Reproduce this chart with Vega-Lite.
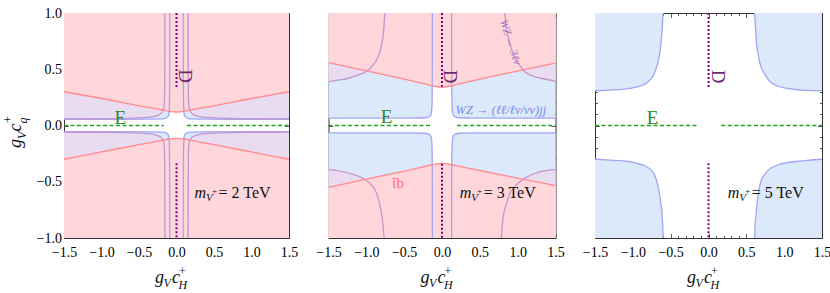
{
"$schema":"https://vega.github.io/schema/vega-lite/v6.json",
"background":"white",
"padding":{"left":1,"top":6,"right":2,"bottom":0},
"spacing":39.5,
"bounds":"flush",
"config":{"view":{"stroke":null},"axis":{"grid":false,"zindex":1,"domainColor":"#333","tickColor":"#333","tickWidth":0.8,"domainWidth":1,"labelFont":"Liberation Serif","labelFontSize":14,"labelColor":"#000","labelFlush":false,"labelOverlap":false},"text":{"font":"Liberation Serif","color":"#111"}},
"datasets":{
"f":[
{"p":1,"c":"b","r":"tr","x":0.09,"y":1,"y2":1},{"p":1,"c":"b","r":"tr","x":0.091,"y":0.5,"y2":1},{"p":1,"c":"b","r":"tr","x":0.093,"y":0.25,"y2":1},{"p":1,"c":"b","r":"tr","x":0.097,"y":0.15,"y2":1},{"p":1,"c":"b","r":"tr","x":0.104,"y":0.093,"y2":1},{"p":1,"c":"b","r":"tr","x":0.12,"y":0.075,"y2":1},{"p":1,"c":"b","r":"tr","x":0.15,"y":0.064,"y2":1},{"p":1,"c":"b","r":"tr","x":0.2,"y":0.059,"y2":1},{"p":1,"c":"b","r":"tr","x":0.4,"y":0.056,"y2":1},{"p":1,"c":"b","r":"tr","x":0.8,"y":0.055,"y2":1},{"p":1,"c":"b","r":"tr","x":1.5,"y":0.055,"y2":1},
{"p":1,"c":"b","r":"tl","x":-1.5,"y":0.055,"y2":1},{"p":1,"c":"b","r":"tl","x":-0.8,"y":0.055,"y2":1},{"p":1,"c":"b","r":"tl","x":-0.4,"y":0.056,"y2":1},{"p":1,"c":"b","r":"tl","x":-0.2,"y":0.059,"y2":1},{"p":1,"c":"b","r":"tl","x":-0.15,"y":0.064,"y2":1},{"p":1,"c":"b","r":"tl","x":-0.12,"y":0.075,"y2":1},{"p":1,"c":"b","r":"tl","x":-0.104,"y":0.093,"y2":1},{"p":1,"c":"b","r":"tl","x":-0.097,"y":0.15,"y2":1},{"p":1,"c":"b","r":"tl","x":-0.093,"y":0.25,"y2":1},{"p":1,"c":"b","r":"tl","x":-0.091,"y":0.5,"y2":1},{"p":1,"c":"b","r":"tl","x":-0.09,"y":1,"y2":1},
{"p":1,"c":"b","r":"br","x":0.09,"y":-1,"y2":-1},{"p":1,"c":"b","r":"br","x":0.091,"y":-0.5,"y2":-1},{"p":1,"c":"b","r":"br","x":0.093,"y":-0.25,"y2":-1},{"p":1,"c":"b","r":"br","x":0.097,"y":-0.15,"y2":-1},{"p":1,"c":"b","r":"br","x":0.104,"y":-0.093,"y2":-1},{"p":1,"c":"b","r":"br","x":0.12,"y":-0.075,"y2":-1},{"p":1,"c":"b","r":"br","x":0.15,"y":-0.064,"y2":-1},{"p":1,"c":"b","r":"br","x":0.2,"y":-0.059,"y2":-1},{"p":1,"c":"b","r":"br","x":0.4,"y":-0.056,"y2":-1},{"p":1,"c":"b","r":"br","x":0.8,"y":-0.055,"y2":-1},{"p":1,"c":"b","r":"br","x":1.5,"y":-0.055,"y2":-1},
{"p":1,"c":"b","r":"bl","x":-1.5,"y":-0.055,"y2":-1},{"p":1,"c":"b","r":"bl","x":-0.8,"y":-0.055,"y2":-1},{"p":1,"c":"b","r":"bl","x":-0.4,"y":-0.056,"y2":-1},{"p":1,"c":"b","r":"bl","x":-0.2,"y":-0.059,"y2":-1},{"p":1,"c":"b","r":"bl","x":-0.15,"y":-0.064,"y2":-1},{"p":1,"c":"b","r":"bl","x":-0.12,"y":-0.075,"y2":-1},{"p":1,"c":"b","r":"bl","x":-0.104,"y":-0.093,"y2":-1},{"p":1,"c":"b","r":"bl","x":-0.097,"y":-0.15,"y2":-1},{"p":1,"c":"b","r":"bl","x":-0.093,"y":-0.25,"y2":-1},{"p":1,"c":"b","r":"bl","x":-0.091,"y":-0.5,"y2":-1},{"p":1,"c":"b","r":"bl","x":-0.09,"y":-1,"y2":-1},

{"p":1,"c":"u","r":"tr","x":0.155,"y":1,"y2":1},{"p":1,"c":"u","r":"tr","x":0.156,"y":0.5,"y2":1},{"p":1,"c":"u","r":"tr","x":0.158,"y":0.3,"y2":1},{"p":1,"c":"u","r":"tr","x":0.162,"y":0.2,"y2":1},{"p":1,"c":"u","r":"tr","x":0.17,"y":0.145,"y2":1},{"p":1,"c":"u","r":"tr","x":0.2,"y":0.11,"y2":1},{"p":1,"c":"u","r":"tr","x":0.25,"y":0.09,"y2":1},{"p":1,"c":"u","r":"tr","x":0.35,"y":0.075,"y2":1},{"p":1,"c":"u","r":"tr","x":0.6,"y":0.065,"y2":1},{"p":1,"c":"u","r":"tr","x":1.0,"y":0.06,"y2":1},{"p":1,"c":"u","r":"tr","x":1.5,"y":0.058,"y2":1},
{"p":1,"c":"u","r":"tl","x":-1.5,"y":0.058,"y2":1},{"p":1,"c":"u","r":"tl","x":-1.0,"y":0.06,"y2":1},{"p":1,"c":"u","r":"tl","x":-0.6,"y":0.065,"y2":1},{"p":1,"c":"u","r":"tl","x":-0.35,"y":0.075,"y2":1},{"p":1,"c":"u","r":"tl","x":-0.25,"y":0.09,"y2":1},{"p":1,"c":"u","r":"tl","x":-0.2,"y":0.11,"y2":1},{"p":1,"c":"u","r":"tl","x":-0.17,"y":0.145,"y2":1},{"p":1,"c":"u","r":"tl","x":-0.162,"y":0.2,"y2":1},{"p":1,"c":"u","r":"tl","x":-0.158,"y":0.3,"y2":1},{"p":1,"c":"u","r":"tl","x":-0.156,"y":0.5,"y2":1},{"p":1,"c":"u","r":"tl","x":-0.155,"y":1,"y2":1},
{"p":1,"c":"u","r":"br","x":0.155,"y":-1,"y2":-1},{"p":1,"c":"u","r":"br","x":0.156,"y":-0.5,"y2":-1},{"p":1,"c":"u","r":"br","x":0.158,"y":-0.3,"y2":-1},{"p":1,"c":"u","r":"br","x":0.162,"y":-0.2,"y2":-1},{"p":1,"c":"u","r":"br","x":0.17,"y":-0.145,"y2":-1},{"p":1,"c":"u","r":"br","x":0.2,"y":-0.11,"y2":-1},{"p":1,"c":"u","r":"br","x":0.25,"y":-0.09,"y2":-1},{"p":1,"c":"u","r":"br","x":0.35,"y":-0.075,"y2":-1},{"p":1,"c":"u","r":"br","x":0.6,"y":-0.065,"y2":-1},{"p":1,"c":"u","r":"br","x":1.0,"y":-0.06,"y2":-1},{"p":1,"c":"u","r":"br","x":1.5,"y":-0.058,"y2":-1},
{"p":1,"c":"u","r":"bl","x":-1.5,"y":-0.058,"y2":-1},{"p":1,"c":"u","r":"bl","x":-1.0,"y":-0.06,"y2":-1},{"p":1,"c":"u","r":"bl","x":-0.6,"y":-0.065,"y2":-1},{"p":1,"c":"u","r":"bl","x":-0.35,"y":-0.075,"y2":-1},{"p":1,"c":"u","r":"bl","x":-0.25,"y":-0.09,"y2":-1},{"p":1,"c":"u","r":"bl","x":-0.2,"y":-0.11,"y2":-1},{"p":1,"c":"u","r":"bl","x":-0.17,"y":-0.145,"y2":-1},{"p":1,"c":"u","r":"bl","x":-0.162,"y":-0.2,"y2":-1},{"p":1,"c":"u","r":"bl","x":-0.158,"y":-0.3,"y2":-1},{"p":1,"c":"u","r":"bl","x":-0.156,"y":-0.5,"y2":-1},{"p":1,"c":"u","r":"bl","x":-0.155,"y":-1,"y2":-1},

{"p":1,"c":"k","r":"t","x":-1.5,"y":0.30,"y2":1},{"p":1,"c":"k","r":"t","x":-1.0,"y":0.24,"y2":1},{"p":1,"c":"k","r":"t","x":-0.5,"y":0.175,"y2":1},{"p":1,"c":"k","r":"t","x":-0.2,"y":0.14,"y2":1},{"p":1,"c":"k","r":"t","x":-0.1,"y":0.126,"y2":1},{"p":1,"c":"k","r":"t","x":0,"y":0.12,"y2":1},{"p":1,"c":"k","r":"t","x":0.1,"y":0.126,"y2":1},{"p":1,"c":"k","r":"t","x":0.2,"y":0.14,"y2":1},{"p":1,"c":"k","r":"t","x":0.5,"y":0.175,"y2":1},{"p":1,"c":"k","r":"t","x":1.0,"y":0.24,"y2":1},{"p":1,"c":"k","r":"t","x":1.5,"y":0.30,"y2":1},
{"p":1,"c":"k","r":"b","x":-1.5,"y":-0.30,"y2":-1},{"p":1,"c":"k","r":"b","x":-1.0,"y":-0.235,"y2":-1},{"p":1,"c":"k","r":"b","x":-0.5,"y":-0.17,"y2":-1},{"p":1,"c":"k","r":"b","x":-0.2,"y":-0.133,"y2":-1},{"p":1,"c":"k","r":"b","x":-0.1,"y":-0.12,"y2":-1},{"p":1,"c":"k","r":"b","x":0,"y":-0.115,"y2":-1},{"p":1,"c":"k","r":"b","x":0.1,"y":-0.12,"y2":-1},{"p":1,"c":"k","r":"b","x":0.2,"y":-0.133,"y2":-1},{"p":1,"c":"k","r":"b","x":0.5,"y":-0.17,"y2":-1},{"p":1,"c":"k","r":"b","x":1.0,"y":-0.235,"y2":-1},{"p":1,"c":"k","r":"b","x":1.5,"y":-0.30,"y2":-1},

{"p":2,"c":"b","r":"tr","x":0.127,"y":1,"y2":1},{"p":2,"c":"b","r":"tr","x":0.128,"y":0.5,"y2":1},{"p":2,"c":"b","r":"tr","x":0.13,"y":0.25,"y2":1},{"p":2,"c":"b","r":"tr","x":0.134,"y":0.16,"y2":1},{"p":2,"c":"b","r":"tr","x":0.142,"y":0.11,"y2":1},{"p":2,"c":"b","r":"tr","x":0.157,"y":0.085,"y2":1},{"p":2,"c":"b","r":"tr","x":0.182,"y":0.075,"y2":1},{"p":2,"c":"b","r":"tr","x":0.23,"y":0.069,"y2":1},{"p":2,"c":"b","r":"tr","x":0.4,"y":0.066,"y2":1},{"p":2,"c":"b","r":"tr","x":1.5,"y":0.065,"y2":1},
{"p":2,"c":"b","r":"tl","x":-1.5,"y":0.065,"y2":1},{"p":2,"c":"b","r":"tl","x":-0.4,"y":0.066,"y2":1},{"p":2,"c":"b","r":"tl","x":-0.23,"y":0.069,"y2":1},{"p":2,"c":"b","r":"tl","x":-0.182,"y":0.075,"y2":1},{"p":2,"c":"b","r":"tl","x":-0.157,"y":0.085,"y2":1},{"p":2,"c":"b","r":"tl","x":-0.142,"y":0.11,"y2":1},{"p":2,"c":"b","r":"tl","x":-0.134,"y":0.16,"y2":1},{"p":2,"c":"b","r":"tl","x":-0.13,"y":0.25,"y2":1},{"p":2,"c":"b","r":"tl","x":-0.128,"y":0.5,"y2":1},{"p":2,"c":"b","r":"tl","x":-0.127,"y":1,"y2":1},
{"p":2,"c":"b","r":"br","x":0.127,"y":-1,"y2":-1},{"p":2,"c":"b","r":"br","x":0.128,"y":-0.5,"y2":-1},{"p":2,"c":"b","r":"br","x":0.13,"y":-0.25,"y2":-1},{"p":2,"c":"b","r":"br","x":0.134,"y":-0.16,"y2":-1},{"p":2,"c":"b","r":"br","x":0.142,"y":-0.11,"y2":-1},{"p":2,"c":"b","r":"br","x":0.157,"y":-0.085,"y2":-1},{"p":2,"c":"b","r":"br","x":0.182,"y":-0.075,"y2":-1},{"p":2,"c":"b","r":"br","x":0.23,"y":-0.069,"y2":-1},{"p":2,"c":"b","r":"br","x":0.4,"y":-0.066,"y2":-1},{"p":2,"c":"b","r":"br","x":1.5,"y":-0.065,"y2":-1},
{"p":2,"c":"b","r":"bl","x":-1.5,"y":-0.065,"y2":-1},{"p":2,"c":"b","r":"bl","x":-0.4,"y":-0.066,"y2":-1},{"p":2,"c":"b","r":"bl","x":-0.23,"y":-0.069,"y2":-1},{"p":2,"c":"b","r":"bl","x":-0.182,"y":-0.075,"y2":-1},{"p":2,"c":"b","r":"bl","x":-0.157,"y":-0.085,"y2":-1},{"p":2,"c":"b","r":"bl","x":-0.142,"y":-0.11,"y2":-1},{"p":2,"c":"b","r":"bl","x":-0.134,"y":-0.16,"y2":-1},{"p":2,"c":"b","r":"bl","x":-0.13,"y":-0.25,"y2":-1},{"p":2,"c":"b","r":"bl","x":-0.128,"y":-0.5,"y2":-1},{"p":2,"c":"b","r":"bl","x":-0.127,"y":-1,"y2":-1},

{"p":2,"c":"u","r":"tl","x":-1.5,"y":0.39,"y2":1},{"p":2,"c":"u","r":"tl","x":-1.35,"y":0.405,"y2":1},{"p":2,"c":"u","r":"tl","x":-1.24,"y":0.42,"y2":1},{"p":2,"c":"u","r":"tl","x":-1.1,"y":0.45,"y2":1},{"p":2,"c":"u","r":"tl","x":-1.0,"y":0.48,"y2":1},{"p":2,"c":"u","r":"tl","x":-0.92,"y":0.53,"y2":1},{"p":2,"c":"u","r":"tl","x":-0.86,"y":0.59,"y2":1},{"p":2,"c":"u","r":"tl","x":-0.82,"y":0.66,"y2":1},{"p":2,"c":"u","r":"tl","x":-0.79,"y":0.75,"y2":1},{"p":2,"c":"u","r":"tl","x":-0.77,"y":0.85,"y2":1},{"p":2,"c":"u","r":"tl","x":-0.756,"y":1,"y2":1},
{"p":2,"c":"u","r":"tr","x":0.83,"y":1,"y2":1},{"p":2,"c":"u","r":"tr","x":0.845,"y":0.9,"y2":1},{"p":2,"c":"u","r":"tr","x":0.87,"y":0.8,"y2":1},{"p":2,"c":"u","r":"tr","x":0.91,"y":0.7,"y2":1},{"p":2,"c":"u","r":"tr","x":0.96,"y":0.61,"y2":1},{"p":2,"c":"u","r":"tr","x":1.02,"y":0.54,"y2":1},{"p":2,"c":"u","r":"tr","x":1.09,"y":0.48,"y2":1},{"p":2,"c":"u","r":"tr","x":1.2,"y":0.44,"y2":1},{"p":2,"c":"u","r":"tr","x":1.31,"y":0.42,"y2":1},{"p":2,"c":"u","r":"tr","x":1.5,"y":0.395,"y2":1},
{"p":2,"c":"u","r":"bl","x":-1.5,"y":-0.39,"y2":-1},{"p":2,"c":"u","r":"bl","x":-1.25,"y":-0.42,"y2":-1},{"p":2,"c":"u","r":"bl","x":-1.02,"y":-0.48,"y2":-1},{"p":2,"c":"u","r":"bl","x":-0.93,"y":-0.53,"y2":-1},{"p":2,"c":"u","r":"bl","x":-0.866,"y":-0.6,"y2":-1},{"p":2,"c":"u","r":"bl","x":-0.83,"y":-0.68,"y2":-1},{"p":2,"c":"u","r":"bl","x":-0.8,"y":-0.78,"y2":-1},{"p":2,"c":"u","r":"bl","x":-0.78,"y":-0.88,"y2":-1},{"p":2,"c":"u","r":"bl","x":-0.765,"y":-1,"y2":-1},
{"p":2,"c":"u","r":"br","x":0.785,"y":-1,"y2":-1},{"p":2,"c":"u","r":"br","x":0.795,"y":-0.9,"y2":-1},{"p":2,"c":"u","r":"br","x":0.81,"y":-0.81,"y2":-1},{"p":2,"c":"u","r":"br","x":0.85,"y":-0.7,"y2":-1},{"p":2,"c":"u","r":"br","x":0.9,"y":-0.6,"y2":-1},{"p":2,"c":"u","r":"br","x":0.98,"y":-0.53,"y2":-1},{"p":2,"c":"u","r":"br","x":1.09,"y":-0.47,"y2":-1},{"p":2,"c":"u","r":"br","x":1.25,"y":-0.42,"y2":-1},{"p":2,"c":"u","r":"br","x":1.5,"y":-0.39,"y2":-1},

{"p":2,"c":"k","r":"t","x":-1.5,"y":0.558,"y2":1},{"p":2,"c":"k","r":"t","x":-1.0,"y":0.485,"y2":1},{"p":2,"c":"k","r":"t","x":-0.5,"y":0.413,"y2":1},{"p":2,"c":"k","r":"t","x":-0.2,"y":0.365,"y2":1},{"p":2,"c":"k","r":"t","x":-0.1,"y":0.349,"y2":1},{"p":2,"c":"k","r":"t","x":0,"y":0.34,"y2":1},{"p":2,"c":"k","r":"t","x":0.1,"y":0.349,"y2":1},{"p":2,"c":"k","r":"t","x":0.2,"y":0.365,"y2":1},{"p":2,"c":"k","r":"t","x":0.5,"y":0.412,"y2":1},{"p":2,"c":"k","r":"t","x":1.0,"y":0.484,"y2":1},{"p":2,"c":"k","r":"t","x":1.5,"y":0.555,"y2":1},
{"p":2,"c":"k","r":"b","x":-1.5,"y":-0.55,"y2":-1},{"p":2,"c":"k","r":"b","x":-1.0,"y":-0.477,"y2":-1},{"p":2,"c":"k","r":"b","x":-0.5,"y":-0.405,"y2":-1},{"p":2,"c":"k","r":"b","x":-0.2,"y":-0.36,"y2":-1},{"p":2,"c":"k","r":"b","x":-0.1,"y":-0.345,"y2":-1},{"p":2,"c":"k","r":"b","x":0,"y":-0.336,"y2":-1},{"p":2,"c":"k","r":"b","x":0.1,"y":-0.345,"y2":-1},{"p":2,"c":"k","r":"b","x":0.2,"y":-0.358,"y2":-1},{"p":2,"c":"k","r":"b","x":0.5,"y":-0.4,"y2":-1},{"p":2,"c":"k","r":"b","x":1.0,"y":-0.468,"y2":-1},{"p":2,"c":"k","r":"b","x":1.5,"y":-0.535,"y2":-1},

{"p":3,"c":"b","r":"tl","x":-1.5,"y":0.31,"y2":1},{"p":3,"c":"b","r":"tl","x":-1.3,"y":0.315,"y2":1},{"p":3,"c":"b","r":"tl","x":-1.055,"y":0.327,"y2":1},{"p":3,"c":"b","r":"tl","x":-0.93,"y":0.345,"y2":1},{"p":3,"c":"b","r":"tl","x":-0.835,"y":0.37,"y2":1},{"p":3,"c":"b","r":"tl","x":-0.76,"y":0.415,"y2":1},{"p":3,"c":"b","r":"tl","x":-0.725,"y":0.45,"y2":1},{"p":3,"c":"b","r":"tl","x":-0.69,"y":0.51,"y2":1},{"p":3,"c":"b","r":"tl","x":-0.66,"y":0.58,"y2":1},{"p":3,"c":"b","r":"tl","x":-0.637,"y":0.68,"y2":1},{"p":3,"c":"b","r":"tl","x":-0.624,"y":0.76,"y2":1},{"p":3,"c":"b","r":"tl","x":-0.61,"y":0.88,"y2":1},{"p":3,"c":"b","r":"tl","x":-0.6,"y":1,"y2":1},
{"p":3,"c":"b","r":"tr","x":0.61,"y":1,"y2":1},{"p":3,"c":"b","r":"tr","x":0.62,"y":0.88,"y2":1},{"p":3,"c":"b","r":"tr","x":0.63,"y":0.76,"y2":1},{"p":3,"c":"b","r":"tr","x":0.645,"y":0.68,"y2":1},{"p":3,"c":"b","r":"tr","x":0.67,"y":0.58,"y2":1},{"p":3,"c":"b","r":"tr","x":0.7,"y":0.51,"y2":1},{"p":3,"c":"b","r":"tr","x":0.75,"y":0.45,"y2":1},{"p":3,"c":"b","r":"tr","x":0.8,"y":0.4,"y2":1},{"p":3,"c":"b","r":"tr","x":0.88,"y":0.36,"y2":1},{"p":3,"c":"b","r":"tr","x":1.0,"y":0.335,"y2":1},{"p":3,"c":"b","r":"tr","x":1.146,"y":0.32,"y2":1},{"p":3,"c":"b","r":"tr","x":1.3,"y":0.313,"y2":1},{"p":3,"c":"b","r":"tr","x":1.5,"y":0.31,"y2":1},
{"p":3,"c":"b","r":"bl","x":-1.5,"y":-0.3,"y2":-1},{"p":3,"c":"b","r":"bl","x":-1.3,"y":-0.308,"y2":-1},{"p":3,"c":"b","r":"bl","x":-1.055,"y":-0.32,"y2":-1},{"p":3,"c":"b","r":"bl","x":-0.93,"y":-0.34,"y2":-1},{"p":3,"c":"b","r":"bl","x":-0.835,"y":-0.36,"y2":-1},{"p":3,"c":"b","r":"bl","x":-0.76,"y":-0.395,"y2":-1},{"p":3,"c":"b","r":"bl","x":-0.725,"y":-0.425,"y2":-1},{"p":3,"c":"b","r":"bl","x":-0.69,"y":-0.48,"y2":-1},{"p":3,"c":"b","r":"bl","x":-0.66,"y":-0.56,"y2":-1},{"p":3,"c":"b","r":"bl","x":-0.635,"y":-0.67,"y2":-1},{"p":3,"c":"b","r":"bl","x":-0.615,"y":-0.78,"y2":-1},{"p":3,"c":"b","r":"bl","x":-0.605,"y":-0.9,"y2":-1},{"p":3,"c":"b","r":"bl","x":-0.6,"y":-1,"y2":-1},
{"p":3,"c":"b","r":"br","x":0.61,"y":-1,"y2":-1},{"p":3,"c":"b","r":"br","x":0.615,"y":-0.9,"y2":-1},{"p":3,"c":"b","r":"br","x":0.63,"y":-0.78,"y2":-1},{"p":3,"c":"b","r":"br","x":0.645,"y":-0.67,"y2":-1},{"p":3,"c":"b","r":"br","x":0.67,"y":-0.56,"y2":-1},{"p":3,"c":"b","r":"br","x":0.7,"y":-0.48,"y2":-1},{"p":3,"c":"b","r":"br","x":0.75,"y":-0.43,"y2":-1},{"p":3,"c":"b","r":"br","x":0.8,"y":-0.39,"y2":-1},{"p":3,"c":"b","r":"br","x":0.88,"y":-0.36,"y2":-1},{"p":3,"c":"b","r":"br","x":1.0,"y":-0.335,"y2":-1},{"p":3,"c":"b","r":"br","x":1.146,"y":-0.32,"y2":-1},{"p":3,"c":"b","r":"br","x":1.3,"y":-0.31,"y2":-1},{"p":3,"c":"b","r":"br","x":1.5,"y":-0.3,"y2":-1}
],
"rl":[
{"p":1,"k":"E","x":-1.5,"x2":-0.17,"y":0},{"p":1,"k":"E","x":0.14,"x2":1.5,"y":0},
{"p":2,"k":"E","x":-1.5,"x2":-0.16,"y":0},{"p":2,"k":"E","x":0.2,"x2":1.5,"y":0},
{"p":3,"k":"E","x":-1.5,"x2":-0.145,"y":0},{"p":3,"k":"E","x":0.17,"x2":1.5,"y":0},
{"p":1,"k":"D","x":0,"y":1,"y2":0.34},{"p":1,"k":"D","x":0,"y":-0.336,"y2":-1},
{"p":2,"k":"D","x":0,"y":1,"y2":0.345},{"p":2,"k":"D","x":0,"y":-0.34,"y2":-1},
{"p":3,"k":"D","x":0,"y":1,"y2":0.34},{"p":3,"k":"D","x":0,"y":-0.336,"y2":-1}
],
"lb":[
{"p":1,"k":"D","x":0.109,"y":0.44,"t":"D"},{"p":1,"k":"E","x":-0.75,"y":0.064,"t":"E"},
{"p":1,"k":"m","x":0.24,"y":-0.64,"t":"m"},{"p":1,"k":"s","x":0.24,"y":-0.64,"t":"V"},{"p":1,"k":"u","x":0.24,"y":-0.64,"t":"+"},{"p":1,"k":"r","x":0.24,"y":-0.64,"t":"= 2 TeV"},
{"p":2,"k":"D","x":0.1,"y":0.434,"t":"D"},{"p":2,"k":"E","x":-0.734,"y":0.073,"t":"E"},
{"p":2,"k":"m","x":0.234,"y":-0.64,"t":"m"},{"p":2,"k":"s","x":0.234,"y":-0.64,"t":"V"},{"p":2,"k":"u","x":0.234,"y":-0.64,"t":"+"},{"p":2,"k":"r","x":0.234,"y":-0.64,"t":"= 3 TeV"},
{"p":2,"k":"w3","x":0.9,"y":0.74,"t":"WZ → 3ℓν"},{"p":2,"k":"wj","x":0.18,"y":0.138,"t":"WZ → (ℓℓ/ℓν/νν)jj"},{"p":2,"k":"tb","x":-0.58,"y":-0.514,"t":"t̄b"},
{"p":3,"k":"D","x":0.125,"y":0.434,"t":"D"},{"p":3,"k":"E","x":-0.738,"y":0.064,"t":"E"},
{"p":3,"k":"m","x":0.253,"y":-0.64,"t":"m"},{"p":3,"k":"s","x":0.253,"y":-0.64,"t":"V"},{"p":3,"k":"u","x":0.253,"y":-0.64,"t":"+"},{"p":3,"k":"r","x":0.253,"y":-0.64,"t":"= 5 TeV"}
],
"ti":[
{"k":"xg","x":0,"y":-1,"t":"g"},{"k":"xV","x":0,"y":-1,"t":"V"},{"k":"xc","x":0,"y":-1,"t":"c"},{"k":"xp","x":0,"y":-1,"t":"+"},{"k":"xH","x":0,"y":-1,"t":"H"},
{"k":"yg","x":-1.5,"y":-0.2,"t":"g"},{"k":"yV","x":-1.5,"y":-0.2,"t":"V"},{"k":"yc","x":-1.5,"y":-0.2,"t":"c"},{"k":"yq","x":-1.5,"y":-0.2,"t":"q"},{"k":"yp","x":-1.5,"y":-0.2,"t":"+"}
]
},
"hconcat":[
{"width":225,"height":225,
"encoding":{"x":{"field":"x","type":"quantitative","scale":{"domain":[-1.5,1.5],"nice":false,"zero":false},"axis":null},"y":{"field":"y","type":"quantitative","stack":null,"scale":{"domain":[-1,1],"nice":false,"zero":false},"axis":null}},
"layer":[
{"data":{"name":"f"},"transform":[{"filter":"datum.p==1 && datum.c=='b'"}],"mark":{"type":"area","color":"#dbe9fb","opacity":1,"interpolate":"monotone"},"encoding":{"y2":{"field":"y2"},"detail":{"field":"r"}}},
{"data":{"name":"f"},"transform":[{"filter":"datum.p==1 && datum.c=='u'"}],"mark":{"type":"area","color":"#e9dcf0","opacity":1,"interpolate":"monotone"},"encoding":{"y2":{"field":"y2"},"detail":{"field":"r"}}},
{"data":{"name":"f"},"transform":[{"filter":"datum.p==1 && datum.c=='k'"}],"mark":{"type":"area","color":"#ffd6d9","opacity":1,"interpolate":"monotone"},"encoding":{"y2":{"field":"y2"},"detail":{"field":"r"}}},
{"data":{"name":"f"},"transform":[{"filter":"datum.p==1 && datum.c=='b'"}],"mark":{"type":"line","color":"#a0a6f4","strokeWidth":1.3,"interpolate":"monotone","clip":true},"encoding":{"detail":{"field":"r"}}},
{"data":{"name":"f"},"transform":[{"filter":"datum.p==1 && datum.c=='u'"}],"mark":{"type":"line","color":"#c495cf","strokeWidth":1.3,"interpolate":"monotone","clip":true},"encoding":{"detail":{"field":"r"}}},
{"data":{"name":"f"},"transform":[{"filter":"datum.p==1 && datum.c=='k'"}],"mark":{"type":"line","color":"#ff8a8e","strokeWidth":1.3,"interpolate":"monotone","clip":true},"encoding":{"detail":{"field":"r"}}},
{"data":{"name":"rl"},"transform":[{"filter":"datum.p==1 && datum.k=='E'"}],"mark":{"type":"rule","color":"#22a022","strokeWidth":1.7,"strokeDash":[4,2.5]},"encoding":{"x2":{"field":"x2"}}},
{"data":{"name":"rl"},"transform":[{"filter":"datum.p==1 && datum.k=='D'"}],"mark":{"type":"rule","color":"#800080","strokeWidth":2,"strokeDash":[2,2]},"encoding":{"y2":{"field":"y2"}}},
{"data":{"name":"lb"},"transform":[{"filter":"datum.p==1 && datum.k=='D'"}],"mark":{"type":"text","fontSize":19,"color":"#6e2c6e","angle":90,"align":"center","baseline":"middle"},"encoding":{"text":{"field":"t"}}},
{"data":{"name":"lb"},"transform":[{"filter":"datum.p==1 && datum.k=='E'"}],"mark":{"type":"text","fontSize":19,"color":"#2f8a2f","align":"center","baseline":"middle"},"encoding":{"text":{"field":"t"}}},
{"data":{"name":"lb"},"transform":[{"filter":"datum.p==1 && datum.k=='m'"}],"mark":{"type":"text","fontSize":16,"fontStyle":"italic","color":"#111","align":"left","baseline":"alphabetic"},"encoding":{"text":{"field":"t"}}},
{"data":{"name":"lb"},"transform":[{"filter":"datum.p==1 && datum.k=='s'"}],"mark":{"type":"text","fontSize":11,"fontStyle":"italic","color":"#111","align":"left","baseline":"alphabetic","dx":11.5,"dy":3},"encoding":{"text":{"field":"t"}}},
{"data":{"name":"lb"},"transform":[{"filter":"datum.p==1 && datum.k=='u'"}],"mark":{"type":"text","fontSize":9,"color":"#111","align":"left","baseline":"alphabetic","dx":17.5,"dy":-4},"encoding":{"text":{"field":"t"}}},
{"data":{"name":"lb"},"transform":[{"filter":"datum.p==1 && datum.k=='r'"}],"mark":{"type":"text","fontSize":16,"color":"#111","align":"left","baseline":"alphabetic","dx":24},"encoding":{"text":{"field":"t"}}},
{"data":{"name":"ti"},"transform":[{"filter":"datum.k=='xg'"}],"mark":{"type":"text","fontSize":18,"fontStyle":"italic","color":"#111","align":"left","baseline":"alphabetic","dx":-21.5,"dy":45},"encoding":{"text":{"field":"t"}}},
{"data":{"name":"ti"},"transform":[{"filter":"datum.k=='xV'"}],"mark":{"type":"text","fontSize":12,"fontStyle":"italic","color":"#111","align":"left","baseline":"alphabetic","dx":-13,"dy":48.5},"encoding":{"text":{"field":"t"}}},
{"data":{"name":"ti"},"transform":[{"filter":"datum.k=='xc'"}],"mark":{"type":"text","fontSize":18,"fontStyle":"italic","color":"#111","align":"left","baseline":"alphabetic","dx":-4.5,"dy":45},"encoding":{"text":{"field":"t"}}},
{"data":{"name":"ti"},"transform":[{"filter":"datum.k=='xp'"}],"mark":{"type":"text","fontSize":12,"color":"#111","align":"left","baseline":"alphabetic","dx":2.5,"dy":37},"encoding":{"text":{"field":"t"}}},
{"data":{"name":"ti"},"transform":[{"filter":"datum.k=='xH'"}],"mark":{"type":"text","fontSize":12,"fontStyle":"italic","color":"#111","align":"left","baseline":"alphabetic","dx":2,"dy":51},"encoding":{"text":{"field":"t"}}},
{"data":{"name":"ti"},"transform":[{"filter":"datum.k=='yg'"}],"mark":{"type":"text","fontSize":18,"fontStyle":"italic","color":"#111","angle":270,"align":"left","baseline":"alphabetic","dx":0,"dy":-43.5},"encoding":{"text":{"field":"t"}}},
{"data":{"name":"ti"},"transform":[{"filter":"datum.k=='yV'"}],"mark":{"type":"text","fontSize":12,"fontStyle":"italic","color":"#111","angle":270,"align":"left","baseline":"alphabetic","dx":9,"dy":-38.5},"encoding":{"text":{"field":"t"}}},
{"data":{"name":"ti"},"transform":[{"filter":"datum.k=='yc'"}],"mark":{"type":"text","fontSize":18,"fontStyle":"italic","color":"#111","angle":270,"align":"left","baseline":"alphabetic","dx":16.5,"dy":-43.5},"encoding":{"text":{"field":"t"}}},
{"data":{"name":"ti"},"transform":[{"filter":"datum.k=='yq'"}],"mark":{"type":"text","fontSize":12,"fontStyle":"italic","color":"#111","angle":270,"align":"left","baseline":"alphabetic","dx":24.5,"dy":-37.5},"encoding":{"text":{"field":"t"}}},
{"data":{"name":"ti"},"transform":[{"filter":"datum.k=='yp'"}],"mark":{"type":"text","fontSize":12,"color":"#111","angle":270,"align":"left","baseline":"alphabetic","dx":25,"dy":-52.5},"encoding":{"text":{"field":"t"}}},
{"data":{"values":[{}]},"mark":{"type":"point","opacity":0},"encoding":{"x":{"datum":0,"type":"quantitative","axis":{"orient":"bottom","values":[-1.5,-1,-0.5,0,0.5,1,1.5],"format":".1f","tickSize":-4.5,"labelPadding":12,"title":null}},"y":{"datum":0,"type":"quantitative","axis":{"orient":"left","values":[-1,-0.5,0,0.5,1],"format":".1f","tickSize":-4.5,"labelPadding":7,"title":null}}}},
{"data":{"values":[{}]},"mark":{"type":"point","opacity":0},"encoding":{"x":{"datum":0,"type":"quantitative","axis":{"orient":"bottom","values":[-1.4,-1.3,-1.2,-1.1,-0.9,-0.8,-0.7,-0.6,-0.4,-0.3,-0.2,-0.1,0.1,0.2,0.3,0.4,0.6,0.7,0.8,0.9,1.1,1.2,1.3,1.4],"labels":false,"domain":false,"tickSize":-2.5,"title":null}},"y":{"datum":0,"type":"quantitative","axis":{"orient":"left","values":[-0.9,-0.8,-0.7,-0.6,-0.4,-0.3,-0.2,-0.1,0.1,0.2,0.3,0.4,0.6,0.7,0.8,0.9],"labels":false,"domain":false,"tickSize":-2.5,"title":null}}}},
{"data":{"values":[{}]},"mark":{"type":"point","opacity":0},"encoding":{"x":{"datum":0,"type":"quantitative","axis":{"orient":"top","values":[-1.5,-1,-0.5,0,0.5,1,1.5],"labels":false,"tickSize":-4.5,"title":null}},"y":{"datum":0,"type":"quantitative","axis":{"orient":"right","values":[-1,-0.5,0,0.5,1],"labels":false,"tickSize":-4.5,"title":null}}}},
{"data":{"values":[{}]},"mark":{"type":"point","opacity":0},"encoding":{"x":{"datum":0,"type":"quantitative","axis":{"orient":"top","values":[-1.4,-1.3,-1.2,-1.1,-0.9,-0.8,-0.7,-0.6,-0.4,-0.3,-0.2,-0.1,0.1,0.2,0.3,0.4,0.6,0.7,0.8,0.9,1.1,1.2,1.3,1.4],"labels":false,"domain":false,"tickSize":-2.5,"title":null}},"y":{"datum":0,"type":"quantitative","axis":{"orient":"right","values":[-0.9,-0.8,-0.7,-0.6,-0.4,-0.3,-0.2,-0.1,0.1,0.2,0.3,0.4,0.6,0.7,0.8,0.9],"labels":false,"domain":false,"tickSize":-2.5,"title":null}}}}
],
"resolve":{"axis":{"x":"independent","y":"independent"}}
},
{"width":227,"height":225,
"encoding":{"x":{"field":"x","type":"quantitative","scale":{"domain":[-1.5,1.5],"nice":false,"zero":false},"axis":null},"y":{"field":"y","type":"quantitative","stack":null,"scale":{"domain":[-1,1],"nice":false,"zero":false},"axis":null}},
"layer":[
{"data":{"name":"f"},"transform":[{"filter":"datum.p==2 && datum.c=='b'"}],"mark":{"type":"area","color":"#dbe9fb","opacity":1,"interpolate":"monotone"},"encoding":{"y2":{"field":"y2"},"detail":{"field":"r"}}},
{"data":{"name":"f"},"transform":[{"filter":"datum.p==2 && datum.c=='u'"}],"mark":{"type":"area","color":"#e9dcf0","opacity":1,"interpolate":"monotone"},"encoding":{"y2":{"field":"y2"},"detail":{"field":"r"}}},
{"data":{"name":"f"},"transform":[{"filter":"datum.p==2 && datum.c=='k'"}],"mark":{"type":"area","color":"#ffd6d9","opacity":1,"interpolate":"monotone"},"encoding":{"y2":{"field":"y2"},"detail":{"field":"r"}}},
{"data":{"name":"f"},"transform":[{"filter":"datum.p==2 && datum.c=='b'"}],"mark":{"type":"line","color":"#a0a6f4","strokeWidth":1.3,"interpolate":"monotone","clip":true},"encoding":{"detail":{"field":"r"}}},
{"data":{"name":"f"},"transform":[{"filter":"datum.p==2 && datum.c=='u'"}],"mark":{"type":"line","color":"#c495cf","strokeWidth":1.3,"interpolate":"monotone","clip":true},"encoding":{"detail":{"field":"r"}}},
{"data":{"name":"f"},"transform":[{"filter":"datum.p==2 && datum.c=='k'"}],"mark":{"type":"line","color":"#ff8a8e","strokeWidth":1.3,"interpolate":"monotone","clip":true},"encoding":{"detail":{"field":"r"}}},
{"data":{"name":"rl"},"transform":[{"filter":"datum.p==2 && datum.k=='E'"}],"mark":{"type":"rule","color":"#22a022","strokeWidth":1.7,"strokeDash":[4,2.5]},"encoding":{"x2":{"field":"x2"}}},
{"data":{"name":"rl"},"transform":[{"filter":"datum.p==2 && datum.k=='D'"}],"mark":{"type":"rule","color":"#800080","strokeWidth":2,"strokeDash":[2,2]},"encoding":{"y2":{"field":"y2"}}},
{"data":{"name":"lb"},"transform":[{"filter":"datum.p==2 && datum.k=='D'"}],"mark":{"type":"text","fontSize":19,"color":"#6e2c6e","angle":90,"align":"center","baseline":"middle"},"encoding":{"text":{"field":"t"}}},
{"data":{"name":"lb"},"transform":[{"filter":"datum.p==2 && datum.k=='E'"}],"mark":{"type":"text","fontSize":19,"color":"#2f8a2f","align":"center","baseline":"middle"},"encoding":{"text":{"field":"t"}}},
{"data":{"name":"lb"},"transform":[{"filter":"datum.p==2 && datum.k=='m'"}],"mark":{"type":"text","fontSize":16,"fontStyle":"italic","color":"#111","align":"left","baseline":"alphabetic"},"encoding":{"text":{"field":"t"}}},
{"data":{"name":"lb"},"transform":[{"filter":"datum.p==2 && datum.k=='s'"}],"mark":{"type":"text","fontSize":11,"fontStyle":"italic","color":"#111","align":"left","baseline":"alphabetic","dx":11.5,"dy":3},"encoding":{"text":{"field":"t"}}},
{"data":{"name":"lb"},"transform":[{"filter":"datum.p==2 && datum.k=='u'"}],"mark":{"type":"text","fontSize":9,"color":"#111","align":"left","baseline":"alphabetic","dx":17.5,"dy":-4},"encoding":{"text":{"field":"t"}}},
{"data":{"name":"lb"},"transform":[{"filter":"datum.p==2 && datum.k=='r'"}],"mark":{"type":"text","fontSize":16,"color":"#111","align":"left","baseline":"alphabetic","dx":24},"encoding":{"text":{"field":"t"}}},
{"data":{"name":"lb"},"transform":[{"filter":"datum.p==2 && datum.k=='w3'"}],"mark":{"type":"text","fontSize":11,"fontStyle":"italic","color":"#a072b8","angle":72,"align":"center","baseline":"middle"},"encoding":{"text":{"field":"t"}}},
{"data":{"name":"lb"},"transform":[{"filter":"datum.p==2 && datum.k=='wj'"}],"mark":{"type":"text","fontSize":12.5,"fontStyle":"italic","color":"#7f87ea","align":"left","baseline":"middle"},"encoding":{"text":{"field":"t"}}},
{"data":{"name":"lb"},"transform":[{"filter":"datum.p==2 && datum.k=='tb'"}],"mark":{"type":"text","fontSize":15,"color":"#ff7070","align":"center","baseline":"middle"},"encoding":{"text":{"field":"t"}}},
{"data":{"name":"ti"},"transform":[{"filter":"datum.k=='xg'"}],"mark":{"type":"text","fontSize":18,"fontStyle":"italic","color":"#111","align":"left","baseline":"alphabetic","dx":-21.5,"dy":45},"encoding":{"text":{"field":"t"}}},
{"data":{"name":"ti"},"transform":[{"filter":"datum.k=='xV'"}],"mark":{"type":"text","fontSize":12,"fontStyle":"italic","color":"#111","align":"left","baseline":"alphabetic","dx":-13,"dy":48.5},"encoding":{"text":{"field":"t"}}},
{"data":{"name":"ti"},"transform":[{"filter":"datum.k=='xc'"}],"mark":{"type":"text","fontSize":18,"fontStyle":"italic","color":"#111","align":"left","baseline":"alphabetic","dx":-4.5,"dy":45},"encoding":{"text":{"field":"t"}}},
{"data":{"name":"ti"},"transform":[{"filter":"datum.k=='xp'"}],"mark":{"type":"text","fontSize":12,"color":"#111","align":"left","baseline":"alphabetic","dx":2.5,"dy":37},"encoding":{"text":{"field":"t"}}},
{"data":{"name":"ti"},"transform":[{"filter":"datum.k=='xH'"}],"mark":{"type":"text","fontSize":12,"fontStyle":"italic","color":"#111","align":"left","baseline":"alphabetic","dx":2,"dy":51},"encoding":{"text":{"field":"t"}}},
{"data":{"values":[{}]},"mark":{"type":"point","opacity":0},"encoding":{"x":{"datum":0,"type":"quantitative","axis":{"orient":"bottom","values":[-1.5,-1,-0.5,0,0.5,1,1.5],"format":".1f","tickSize":-4.5,"labelPadding":12,"title":null}},"y":{"datum":0,"type":"quantitative","axis":{"orient":"left","values":[-1,-0.5,0,0.5,1],"labels":false,"tickSize":-4.5,"title":null}}}},
{"data":{"values":[{}]},"mark":{"type":"point","opacity":0},"encoding":{"x":{"datum":0,"type":"quantitative","axis":{"orient":"bottom","values":[-1.4,-1.3,-1.2,-1.1,-0.9,-0.8,-0.7,-0.6,-0.4,-0.3,-0.2,-0.1,0.1,0.2,0.3,0.4,0.6,0.7,0.8,0.9,1.1,1.2,1.3,1.4],"labels":false,"domain":false,"tickSize":-2.5,"title":null}},"y":{"datum":0,"type":"quantitative","axis":{"orient":"left","values":[-0.9,-0.8,-0.7,-0.6,-0.4,-0.3,-0.2,-0.1,0.1,0.2,0.3,0.4,0.6,0.7,0.8,0.9],"labels":false,"domain":false,"tickSize":-2.5,"title":null}}}},
{"data":{"values":[{}]},"mark":{"type":"point","opacity":0},"encoding":{"x":{"datum":0,"type":"quantitative","axis":{"orient":"top","values":[-1.5,-1,-0.5,0,0.5,1,1.5],"labels":false,"tickSize":-4.5,"title":null}},"y":{"datum":0,"type":"quantitative","axis":{"orient":"right","values":[-1,-0.5,0,0.5,1],"labels":false,"tickSize":-4.5,"title":null}}}},
{"data":{"values":[{}]},"mark":{"type":"point","opacity":0},"encoding":{"x":{"datum":0,"type":"quantitative","axis":{"orient":"top","values":[-1.4,-1.3,-1.2,-1.1,-0.9,-0.8,-0.7,-0.6,-0.4,-0.3,-0.2,-0.1,0.1,0.2,0.3,0.4,0.6,0.7,0.8,0.9,1.1,1.2,1.3,1.4],"labels":false,"domain":false,"tickSize":-2.5,"title":null}},"y":{"datum":0,"type":"quantitative","axis":{"orient":"right","values":[-0.9,-0.8,-0.7,-0.6,-0.4,-0.3,-0.2,-0.1,0.1,0.2,0.3,0.4,0.6,0.7,0.8,0.9],"labels":false,"domain":false,"tickSize":-2.5,"title":null}}}}
],
"resolve":{"axis":{"x":"independent","y":"independent"}}
},
{"width":227,"height":225,
"encoding":{"x":{"field":"x","type":"quantitative","scale":{"domain":[-1.5,1.5],"nice":false,"zero":false},"axis":null},"y":{"field":"y","type":"quantitative","stack":null,"scale":{"domain":[-1,1],"nice":false,"zero":false},"axis":null}},
"layer":[
{"data":{"name":"f"},"transform":[{"filter":"datum.p==3 && datum.c=='b'"}],"mark":{"type":"area","color":"#dbe9fb","opacity":1,"interpolate":"monotone"},"encoding":{"y2":{"field":"y2"},"detail":{"field":"r"}}},
{"data":{"name":"f"},"transform":[{"filter":"datum.p==3 && datum.c=='b'"}],"mark":{"type":"line","color":"#a0a6f4","strokeWidth":1.3,"interpolate":"monotone","clip":true},"encoding":{"detail":{"field":"r"}}},
{"data":{"name":"rl"},"transform":[{"filter":"datum.p==3 && datum.k=='E'"}],"mark":{"type":"rule","color":"#22a022","strokeWidth":1.7,"strokeDash":[4,2.5]},"encoding":{"x2":{"field":"x2"}}},
{"data":{"name":"rl"},"transform":[{"filter":"datum.p==3 && datum.k=='D'"}],"mark":{"type":"rule","color":"#800080","strokeWidth":2,"strokeDash":[2,2]},"encoding":{"y2":{"field":"y2"}}},
{"data":{"name":"lb"},"transform":[{"filter":"datum.p==3 && datum.k=='D'"}],"mark":{"type":"text","fontSize":19,"color":"#6e2c6e","angle":90,"align":"center","baseline":"middle"},"encoding":{"text":{"field":"t"}}},
{"data":{"name":"lb"},"transform":[{"filter":"datum.p==3 && datum.k=='E'"}],"mark":{"type":"text","fontSize":19,"color":"#2f8a2f","align":"center","baseline":"middle"},"encoding":{"text":{"field":"t"}}},
{"data":{"name":"lb"},"transform":[{"filter":"datum.p==3 && datum.k=='m'"}],"mark":{"type":"text","fontSize":16,"fontStyle":"italic","color":"#111","align":"left","baseline":"alphabetic"},"encoding":{"text":{"field":"t"}}},
{"data":{"name":"lb"},"transform":[{"filter":"datum.p==3 && datum.k=='s'"}],"mark":{"type":"text","fontSize":11,"fontStyle":"italic","color":"#111","align":"left","baseline":"alphabetic","dx":11.5,"dy":3},"encoding":{"text":{"field":"t"}}},
{"data":{"name":"lb"},"transform":[{"filter":"datum.p==3 && datum.k=='u'"}],"mark":{"type":"text","fontSize":9,"color":"#111","align":"left","baseline":"alphabetic","dx":17.5,"dy":-4},"encoding":{"text":{"field":"t"}}},
{"data":{"name":"lb"},"transform":[{"filter":"datum.p==3 && datum.k=='r'"}],"mark":{"type":"text","fontSize":16,"color":"#111","align":"left","baseline":"alphabetic","dx":24},"encoding":{"text":{"field":"t"}}},
{"data":{"name":"ti"},"transform":[{"filter":"datum.k=='xg'"}],"mark":{"type":"text","fontSize":18,"fontStyle":"italic","color":"#111","align":"left","baseline":"alphabetic","dx":-21.5,"dy":45},"encoding":{"text":{"field":"t"}}},
{"data":{"name":"ti"},"transform":[{"filter":"datum.k=='xV'"}],"mark":{"type":"text","fontSize":12,"fontStyle":"italic","color":"#111","align":"left","baseline":"alphabetic","dx":-13,"dy":48.5},"encoding":{"text":{"field":"t"}}},
{"data":{"name":"ti"},"transform":[{"filter":"datum.k=='xc'"}],"mark":{"type":"text","fontSize":18,"fontStyle":"italic","color":"#111","align":"left","baseline":"alphabetic","dx":-4.5,"dy":45},"encoding":{"text":{"field":"t"}}},
{"data":{"name":"ti"},"transform":[{"filter":"datum.k=='xp'"}],"mark":{"type":"text","fontSize":12,"color":"#111","align":"left","baseline":"alphabetic","dx":2.5,"dy":37},"encoding":{"text":{"field":"t"}}},
{"data":{"name":"ti"},"transform":[{"filter":"datum.k=='xH'"}],"mark":{"type":"text","fontSize":12,"fontStyle":"italic","color":"#111","align":"left","baseline":"alphabetic","dx":2,"dy":51},"encoding":{"text":{"field":"t"}}},
{"data":{"values":[{}]},"mark":{"type":"point","opacity":0},"encoding":{"x":{"datum":0,"type":"quantitative","axis":{"orient":"bottom","values":[-1.5,-1,-0.5,0,0.5,1,1.5],"format":".1f","tickSize":-4.5,"labelPadding":12,"title":null}},"y":{"datum":0,"type":"quantitative","axis":{"orient":"left","values":[-1,-0.5,0,0.5,1],"labels":false,"tickSize":-4.5,"title":null}}}},
{"data":{"values":[{}]},"mark":{"type":"point","opacity":0},"encoding":{"x":{"datum":0,"type":"quantitative","axis":{"orient":"bottom","values":[-1.4,-1.3,-1.2,-1.1,-0.9,-0.8,-0.7,-0.6,-0.4,-0.3,-0.2,-0.1,0.1,0.2,0.3,0.4,0.6,0.7,0.8,0.9,1.1,1.2,1.3,1.4],"labels":false,"domain":false,"tickSize":-2.5,"title":null}},"y":{"datum":0,"type":"quantitative","axis":{"orient":"left","values":[-0.9,-0.8,-0.7,-0.6,-0.4,-0.3,-0.2,-0.1,0.1,0.2,0.3,0.4,0.6,0.7,0.8,0.9],"labels":false,"domain":false,"tickSize":-2.5,"title":null}}}},
{"data":{"values":[{}]},"mark":{"type":"point","opacity":0},"encoding":{"x":{"datum":0,"type":"quantitative","axis":{"orient":"top","values":[-1.5,-1,-0.5,0,0.5,1,1.5],"labels":false,"tickSize":-4.5,"title":null}},"y":{"datum":0,"type":"quantitative","axis":{"orient":"right","values":[-1,-0.5,0,0.5,1],"labels":false,"tickSize":-4.5,"title":null}}}},
{"data":{"values":[{}]},"mark":{"type":"point","opacity":0},"encoding":{"x":{"datum":0,"type":"quantitative","axis":{"orient":"top","values":[-1.4,-1.3,-1.2,-1.1,-0.9,-0.8,-0.7,-0.6,-0.4,-0.3,-0.2,-0.1,0.1,0.2,0.3,0.4,0.6,0.7,0.8,0.9,1.1,1.2,1.3,1.4],"labels":false,"domain":false,"tickSize":-2.5,"title":null}},"y":{"datum":0,"type":"quantitative","axis":{"orient":"right","values":[-0.9,-0.8,-0.7,-0.6,-0.4,-0.3,-0.2,-0.1,0.1,0.2,0.3,0.4,0.6,0.7,0.8,0.9],"labels":false,"domain":false,"tickSize":-2.5,"title":null}}}}
],
"resolve":{"axis":{"x":"independent","y":"independent"}}
}
]
}
